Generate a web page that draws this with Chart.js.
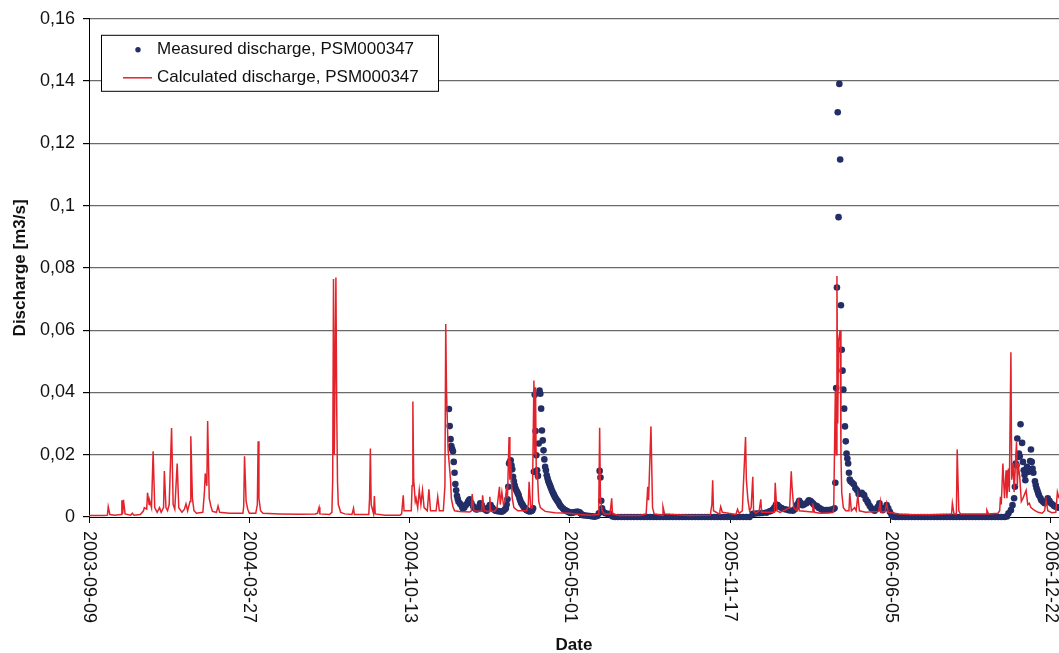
<!DOCTYPE html>
<html>
<head>
<meta charset="utf-8">
<title>Discharge PSM000347</title>
<script src="https://cdn.jsdelivr.net/npm/chart.js@4.4.1/dist/chart.umd.min.js"></script>
<style>
  html, body { margin: 0; padding: 0; background: #ffffff; }
  #wrap { width: 1059px; height: 653px; position: relative; }
</style>
</head>
<body>
<div id="wrap"><canvas id="chart"></canvas></div>
<script>
// Day 0 of the x axis; all series positions are days counted from here.
const START_DATE = '2003-09-09';

// Date labels shown under the x axis.
const xTickLabels = ['2003-09-09', '2004-03-27', '2004-10-13', '2005-05-01', '2005-11-17', '2006-06-05', '2006-12-22'];

const seriesNames = ['Measured discharge, PSM000347', 'Calculated discharge, PSM000347'];

// Measured discharge [m3/s]: [day, value]
const measured = [
  [449,0.0347],[450,0.0292],[451,0.025],[452,0.0228],[453,0.0218],[454,0.0211],[455,0.0177],[456,0.0142],
  [457,0.0106],[458,0.0086],[459,0.0068],[460,0.0058],[461,0.0049],[463,0.0042],[465,0.0035],[466,0.0028],
  [468,0.003],[470,0.0038],[472,0.0044],[473,0.005],[474,0.0054],[475,0.0057],[477,0.0045],[479,0.0035],
  [481,0.0028],[483,0.0024],[485,0.0025],[487,0.0035],[488,0.0044],[490,0.0038],[492,0.0028],[494,0.0024],
  [496,0.002],[498,0.003],[500,0.0038],[501,0.0038],[503,0.003],[505,0.0024],[507,0.002],[509,0.0019],
  [511,0.0019],[513,0.0018],[515,0.0017],[517,0.002],[519,0.0025],[520,0.0028],[521,0.004],[522,0.0057],
  [523,0.0097],[524,0.0172],[525,0.0177],[526,0.0182],[527,0.0166],[528,0.0153],[529,0.0129],[530,0.0115],
  [531,0.0102],[532,0.0092],[533,0.0086],[534,0.0081],[535,0.0075],[536,0.007],[537,0.006],[538,0.0053],
  [539,0.0046],[540,0.0042],[541,0.0038],[542,0.0033],[543,0.003],[544,0.0027],[545,0.0024],[546,0.0022],
  [548,0.0019],[550,0.0018],[552,0.0019],[553,0.0022],[554,0.0028],[555,0.0145],[556,0.0393],[557,0.0276],
  [558,0.0198],[559,0.015],[560,0.0132],[561,0.0236],[562,0.0406],[563,0.0396],[564,0.0348],[565,0.0278],
  [566,0.0246],[567,0.0214],[568,0.0185],[569,0.0161],[570,0.015],[571,0.0134],[572,0.0124],[573,0.0115],
  [574,0.0108],[575,0.0102],[576,0.0095],[577,0.0088],[578,0.0082],[579,0.0076],[580,0.0071],[581,0.0066],
  [582,0.0061],[583,0.0057],[584,0.0053],[585,0.005],[586,0.0045],[587,0.004],[588,0.0036],[589,0.0033],
  [591,0.0028],[592,0.0025],[594,0.0022],[595,0.002],[597,0.0018],[598,0.0016],[600,0.0014],[601,0.0013],
  [603,0.0014],[604,0.0015],[606,0.0016],[607,0.0016],[609,0.0017],[610,0.0017],[612,0.0015],[613,0.0012],
  [615,0.0008],[616,0.0006],[619,0.0005],[622,0.0004],[625,0.0003],[628,0.0002],[631,0.0001],[634,0.0003],
  [636,0.0012],[637,0.0148],[638,0.0127],[639,0.0052],[640,0.0028],[642,0.0016],[644,0.0012],[647,0.001],
  [650,0.001],[653,0.0002],
  [656,0],[660,0],[664,0],[668,0],[672,0],[676,0],[680,0],[684,0],[688,0],[692,0],[696,0],[700,0],
  [704,0],[708,0],[712,0],[716,0],[720,0],[724,0],[728,0],[732,0],[736,0],[740,0],[744,0],[748,0],
  [752,0],[756,0],[760,0],[764,0],[768,0],[772,0],[776,0],[780,0],[784,0],[788,0],[792,0],[796,0],
  [800,0],[804,0],[808,0],[812,0],[816,0],[820,0],[824,0],
  [828,0.001],[832,0.0011],[836,0.0012],[840,0.0013],[845,0.0014],[849,0.0018],[851,0.002],[853,0.0024],
  [855,0.003],[857,0.004],[859,0.0038],[861,0.0033],[864,0.0029],[868,0.0025],[871,0.0023],[874,0.0021],
  [878,0.002],[880,0.0024],[882,0.0031],[883,0.0038],[885,0.0046],[886,0.0052],[888,0.0045],[890,0.0038],
  [892,0.004],[895,0.0044],[897,0.005],[898,0.0054],[900,0.0051],[901,0.0049],[903,0.0044],[904,0.004],
  [906,0.0037],[908,0.0035],[910,0.003],[912,0.0027],[914,0.0024],[916,0.0022],[919,0.0022],[922,0.0022],
  [925,0.0023],[928,0.0025],[930,0.0028],[931,0.011],[932,0.0414],[933,0.0737],[934,0.13],[935,0.0963],
  [936,0.1391],[937,0.1148],[938,0.068],[939,0.0537],[940,0.047],[941,0.0409],[942,0.0348],[943,0.0291],
  [944,0.0243],[945,0.0204],[946,0.0188],[947,0.0172],[948,0.0142],[949,0.012],[950,0.0115],[952,0.011],
  [954,0.0105],[956,0.0092],[958,0.0086],[960,0.0074],[962,0.0076],[964,0.0078],[966,0.0072],[967,0.007],
  [969,0.0057],[971,0.005],[972,0.0044],[974,0.0035],[976,0.0028],[978,0.0024],[980,0.002],[982,0.0026],
  [984,0.0033],[986,0.0044],[988,0.003],[990,0.0022],[992,0.0028],[995,0.0038],[997,0.0028],[999,0.0017],
  [1001,0.0008],[1003,0.0001],
  [1006,0],[1010,0],[1014,0],[1018,0],[1022,0],[1026,0],[1030,0],[1034,0],[1038,0],[1042,0],[1046,0],
  [1050,0],[1054,0],[1058,0],[1062,0],[1066,0],[1070,0],[1074,0],[1078,0],[1082,0],[1086,0],[1090,0],
  [1094,0],[1098,0],[1102,0],[1106,0],[1110,0],[1114,0],[1118,0],[1122,0],[1126,0],[1130,0],[1134,0],
  [1138,0],[1142,0],
  [1145,0.0002],[1147,0.0012],[1150,0.0022],[1152,0.0038],[1154,0.006],[1155,0.0097],[1156,0.0172],
  [1157,0.0166],[1158,0.0252],[1159,0.0193],[1160,0.0204],[1161,0.0195],[1162,0.0298],[1164,0.0238],
  [1165,0.0177],[1166,0.015],[1167,0.0135],[1168,0.0118],[1170,0.0161],[1171,0.0155],[1172,0.0145],
  [1174,0.018],[1175,0.0217],[1176,0.0177],[1177,0.0156],[1178,0.0142],[1180,0.0115],[1181,0.0103],
  [1182,0.0092],[1183,0.0085],[1184,0.0077],[1185,0.007],[1187,0.006],[1188,0.0054],[1190,0.0049],
  [1192,0.0044],[1194,0.005],[1196,0.006],[1198,0.0052],[1200,0.0044],[1202,0.004],[1204,0.0035],
  [1206,0.0033],[1208,0.0031],[1210,0.003]
];

// Calculated discharge [m3/s]: [day, value]
const calculated = [
  [0,0.0005],[20,0.0005],[23,0.0006],[24,0.0033],[26,0.0008],[32,0.0006],[40,0.0008],[41,0.0054],
  [42,0.001],[43,0.0055],[45,0.001],[52,0.0006],[54,0.0012],[56,0.0006],[64,0.0008],[68,0.002],
  [69,0.003],[72,0.0025],[73,0.0078],[75,0.004],[76,0.005],[78,0.003],[80,0.0211],[82,0.003],
  [85,0.0015],[88,0.003],[90,0.0015],[93,0.003],[94,0.0148],[96,0.003],[98,0.002],[100,0.004],
  [103,0.0286],[105,0.004],[107,0.0025],[110,0.0172],[112,0.003],[116,0.0015],[119,0.0025],[121,0.0042],
  [123,0.002],[126,0.005],[127,0.0259],[129,0.006],[131,0.002],[134,0.0012],[142,0.0015],[144,0.008],
  [145,0.014],[147,0.01],[148,0.0308],[150,0.006],[152,0.0035],[154,0.0018],[159,0.0015],[161,0.0035],
  [163,0.0015],[175,0.0012],[192,0.0012],[193,0.0035],[194,0.0195],[196,0.005],[198,0.0025],[200,0.0012],
  [208,0.0012],[210,0.004],[211,0.0243],[212,0.006],[214,0.002],[217,0.0012],[238,0.001],[263,0.0009],
  [282,0.001],[285,0.0012],[287,0.0031],[288,0.001],[300,0.0008],[303,0.0015],[304,0.012],[305,0.0764],
  [306,0.02],[308,0.0769],[309,0.035],[310,0.0113],[311,0.004],[314,0.0015],[319,0.001],[328,0.0008],
  [330,0.0028],[331,0.0008],[349,0.0008],[350,0.006],[351,0.022],[352,0.004],[355,0.001],[356,0.0067],
  [357,0.001],[369,0.0006],[388,0.0006],[390,0.001],[392,0.007],[393,0.002],[402,0.002],[403,0.01],
  [404,0.0371],[405,0.012],[407,0.005],[408,0.006],[410,0.003],[412,0.0086],[414,0.004],[416,0.0086],
  [418,0.003],[422,0.002],[424,0.0089],[426,0.002],[433,0.002],[435,0.0065],[437,0.002],[442,0.002],
  [444,0.01],[445,0.062],[446,0.04],[448,0.0214],[450,0.015],[451,0.0118],[452,0.006],[454,0.0033],
  [456,0.002],[462,0.0018],[475,0.0016],[477,0.002],[478,0.0074],[480,0.002],[490,0.0018],[491,0.007],
  [493,0.002],[499,0.0018],[500,0.0065],[501,0.002],[506,0.0018],[509,0.003],[512,0.0097],[513,0.004],
  [515,0.008],[517,0.004],[519,0.005],[521,0.0097],[522,0.006],[524,0.0257],[525,0.012],[526,0.018],
  [528,0.006],[530,0.003],[535,0.002],[546,0.002],[548,0.004],[549,0.0113],[551,0.003],[553,0.003],
  [555,0.0438],[556,0.02],[557,0.0417],[558,0.012],[559,0.016],[561,0.005],[563,0.003],[569,0.0018],
  [581,0.0014],[600,0.0012],[612,0.0008],[625,0.0006],[635,0.0008],[636,0.006],[637,0.0287],[638,0.006],
  [640,0.002],[643,0.001],[650,0.001],[652,0.006],[653,0.001],[662,0.0005],[687,0.0005],[695,0.001],
  [697,0.0097],[698,0.0054],[701,0.0291],[703,0.003],[705,0.001],[715,0.0006],[716,0.0033],[718,0.001],
  [749,0.0005],[775,0.0006],[777,0.004],[778,0.0118],[779,0.002],[786,0.001],[787,0.002],[788,0.0033],
  [790,0.0015],[807,0.0008],[809,0.0025],[811,0.0012],[815,0.002],[816,0.0086],[819,0.0257],[820,0.012],
  [822,0.0054],[824,0.002],[826,0.003],[828,0.0129],[829,0.002],[832,0.0012],[836,0.002],[838,0.0057],
  [839,0.0015],[855,0.0015],[856,0.011],[858,0.002],[862,0.0015],[874,0.003],[876,0.0147],[877,0.0097],
  [879,0.003],[883,0.002],[885,0.006],[886,0.002],[902,0.0016],[903,0.0044],[905,0.0015],[912,0.0012],
  [928,0.0014],[929,0.003],[931,0.0406],[932,0.02],[933,0.0774],[934,0.03],[935,0.0566],[937,0.06],
  [938,0.02],[939,0.0077],[941,0.003],[944,0.002],[948,0.002],[949,0.0077],[951,0.002],[955,0.003],
  [957,0.002],[959,0.007],[961,0.002],[969,0.0015],[985,0.0018],[987,0.0049],[988,0.0015],[993,0.0018],
  [995,0.0044],[997,0.0015],[1011,0.001],[1024,0.0008],[1049,0.0007],[1076,0.001],[1077,0.0044],[1079,0.001],
  [1082,0.001],[1083,0.0217],[1085,0.002],[1087,0.001],[1119,0.001],[1120,0.0022],[1122,0.001],[1134,0.0012],
  [1136,0.002],[1137,0.0065],[1138,0.004],[1140,0.0172],[1142,0.006],[1144,0.015],[1145,0.006],[1147,0.0156],
  [1148,0.008],[1150,0.0529],[1151,0.012],[1153,0.0172],[1154,0.008],[1157,0.0241],[1158,0.01],[1159,0.0172],
  [1161,0.0129],[1163,0.005],[1165,0.006],[1169,0.0086],[1171,0.004],[1173,0.0044],[1175,0.003],[1179,0.0022],
  [1184,0.0015],[1189,0.0012],[1192,0.002],[1194,0.0054],[1196,0.002],[1201,0.0014],[1206,0.0015],[1208,0.008],
  [1210,0.006]
];

const FONT = "'Liberation Sans', Arial, Helvetica, sans-serif";
const BLUE = '#232e66';
const RED = '#e3232b';
const DAY_MS = 86400000;

function dayOf(dateStr) {
  const p = s => s.split('-').map(Number);
  const [y0, m0, d0] = p(START_DATE);
  const [y, m, d] = p(dateStr);
  return Math.round((Date.UTC(y, m - 1, d) - Date.UTC(y0, m0 - 1, d0)) / DAY_MS);
}
const tickDays = xTickLabels.map(dayOf);

// Date labels rotated a quarter turn clockwise, reading downwards.
const dateLabels = {
  id: 'dateLabels',
  afterDraw(chart) {
    const sx = chart.scales.x, ctx = chart.ctx;
    ctx.save();
    ctx.font = '18px ' + FONT;
    ctx.fillStyle = '#111';
    ctx.textAlign = 'left';
    ctx.textBaseline = 'middle';
    xTickLabels.forEach((label, i) => {
      const px = sx.getPixelForValue(tickDays[i]);
      ctx.save();
      ctx.translate(px, chart.chartArea.bottom + 14);
      ctx.rotate(Math.PI / 2);
      ctx.fillText(label, 0, 0);
      ctx.restore();
    });
    ctx.restore();
  }
};

// Boxed legend sitting inside the plot area, top left.
const boxLegend = {
  id: 'boxLegend',
  afterDraw(chart) {
    const ctx = chart.ctx;
    const a = chart.chartArea;
    const x = a.left + 12, y = a.top + 16, w = 337, h = 56;
    ctx.save();
    ctx.fillStyle = '#ffffff';
    ctx.fillRect(x, y, w, h);
    ctx.strokeStyle = '#000000';
    ctx.lineWidth = 1;
    ctx.strokeRect(x + 0.5, y + 0.5, w, h);

    ctx.fillStyle = BLUE;
    ctx.beginPath();
    ctx.arc(x + 37, y + 15, 2.7, 0, Math.PI * 2);
    ctx.fill();

    ctx.strokeStyle = RED;
    ctx.lineWidth = 1.5;
    ctx.beginPath();
    ctx.moveTo(x + 22, y + 43);
    ctx.lineTo(x + 51, y + 43);
    ctx.stroke();

    ctx.fillStyle = '#111';
    ctx.font = '17px ' + FONT;
    ctx.textAlign = 'left';
    ctx.textBaseline = 'middle';
    ctx.fillText(seriesNames[0], x + 56, y + 15);
    ctx.fillText(seriesNames[1], x + 56, y + 43);
    ctx.restore();
  }
};

const toPoints = arr => arr.map(([d, v]) => ({ x: d, y: v }));

new Chart(document.getElementById('chart'), {
  type: 'line',
  data: {
    datasets: [
      {
        label: seriesNames[1],
        data: toPoints(calculated),
        borderColor: RED,
        borderWidth: 1.5,
        pointRadius: 0,
        tension: 0,
        fill: false,
        order: 0
      },
      {
        label: seriesNames[0],
        data: toPoints(measured),
        showLine: false,
        pointRadius: 3.3,
        pointBorderWidth: 0,
        pointBackgroundColor: BLUE,
        pointBorderColor: BLUE,
        clip: { left: 5, top: 5, right: 0, bottom: 5 },
        order: 1
      }
    ]
  },
  options: {
    responsive: true,
    maintainAspectRatio: false,
    animation: false,
    devicePixelRatio: 1,
    layout: { autoPadding: false, padding: { top: 17, right: 0, bottom: 0, left: 0 } },
    plugins: { legend: { display: false }, tooltip: { enabled: false } },
    scales: {
      x: {
        type: 'linear',
        min: 0,
        max: 1210,
        afterBuildTicks: s => { s.ticks = tickDays.map(v => ({ value: v })); },
        afterFit: s => { s.height = 136; },
        ticks: { display: false },
        grid: { drawOnChartArea: false, drawTicks: true, tickLength: 6, tickColor: '#000' },
        border: { display: true, color: '#000', width: 1 },
        title: {
          display: true,
          text: 'Date',
          color: '#111',
          font: { family: FONT, size: 17, weight: 'bold' },
          padding: { top: 0, bottom: -3 }
        }
      },
      y: {
        min: 0,
        max: 0.16,
        afterFit: s => { s.width = 89; },
        ticks: {
          stepSize: 0.02,
          padding: 8,
          color: '#111',
          font: { family: FONT, size: 18 },
          callback: v => String(Number(v.toFixed(2))).replace('.', ',')
        },
        grid: {
          color: c => (c.tick && c.tick.value === 0) ? 'rgba(0,0,0,0)' : '#6a6a6a',
          lineWidth: 1.2,
          drawTicks: true,
          tickLength: 6,
          tickColor: '#000'
        },
        border: { display: true, color: '#000', width: 1 },
        title: {
          display: true,
          text: 'Discharge [m3/s]',
          color: '#111',
          font: { family: FONT, size: 17, weight: 'bold' },
          padding: { top: 10, bottom: 0 }
        }
      }
    }
  },
  plugins: [dateLabels, boxLegend]
});
</script>
</body>
</html>
